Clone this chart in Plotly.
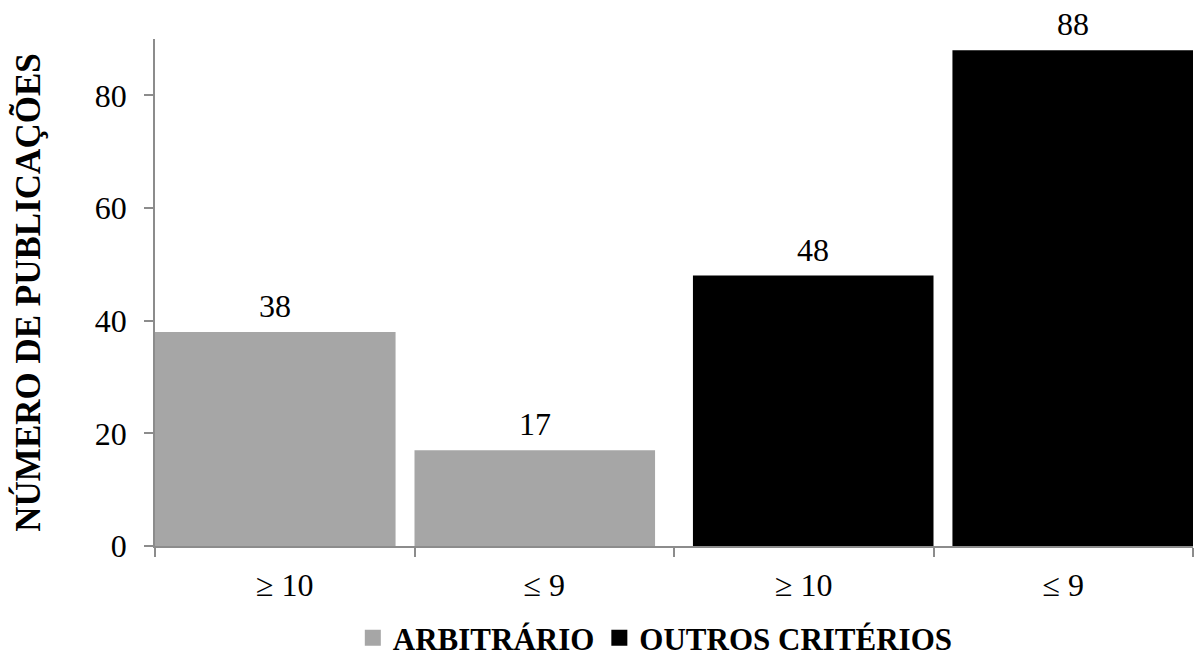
import plotly.graph_objects as go

categories = ["≥ 10", "≤ 9", "≥ 10", "≤ 9"]
series_names = ["ARBITRÁRIO", "OUTROS CRITÉRIOS"]
arbitrario = [38, 17, None, None]
outros = [None, None, 48, 88]
y_ticks = [0, 20, 40, 60, 80]

GRAY = "#a6a6a6"
BLACK = "#000000"
AXIS = "#8c8c8c"
FONT = "Times New Roman, Liberation Serif, serif"

x = list(range(len(categories)))
bw = 0.927

fig = go.Figure()
fig.add_trace(go.Bar(x=x, y=arbitrario, marker=dict(color=GRAY, line=dict(width=0)),
                     width=bw, offset=-0.5, showlegend=False))
fig.add_trace(go.Bar(x=x, y=outros, marker=dict(color=BLACK, line=dict(width=0)),
                     width=bw, offset=0.5 - bw, showlegend=False))

# legend proxies
for name, col in zip(series_names, [GRAY, BLACK]):
    fig.add_trace(go.Scatter(x=[None], y=[None], mode="markers", name=name,
                             marker=dict(symbol="square", size=17, color=col)))

# data labels
for vals, off in [(arbitrario, -0.5 + bw / 2), (outros, 0.5 - bw / 2)]:
    for xi, v in zip(x, vals):
        if v is None:
            continue
        fig.add_annotation(x=xi + off, y=v, text=str(v), showarrow=False,
                           yanchor="bottom", yshift=6,
                           font=dict(family=FONT, size=32, color="black"))

fig.update_layout(
    width=1195, height=662,
    margin=dict(l=155, r=2, t=39, b=116, autoexpand=False),
    plot_bgcolor="white", paper_bgcolor="white",
    barmode="overlay",
    font=dict(family=FONT, size=32, color="black"),
    legend=dict(orientation="h", x=0.482, xanchor="center",
                yref="container", y=0.036, yanchor="middle",
                bgcolor="rgba(0,0,0,0)",
                font=dict(family=FONT, size=31, color="black", weight="bold"),
                itemwidth=30, tracegroupgap=0),
    showlegend=True,
)
fig.update_xaxes(
    range=[-0.5, 3.5], tickmode="array", tickvals=x, ticktext=categories,
    ticks="", showline=True, linecolor=AXIS, linewidth=1.5, showgrid=False, zeroline=False,
    ticklabelstandoff=10,
    minor=dict(tickmode="array", tickvals=[-0.5, 0.5, 1.5, 2.5, 3.5], ticks="outside",
               ticklen=9, tickcolor=AXIS, tickwidth=1.5, showgrid=False),
)
fig.update_yaxes(
    range=[0, 90], tickmode="array", tickvals=y_ticks,
    ticks="outside", ticklen=9, tickcolor=AXIS, tickwidth=1.5,
    showline=True, linecolor=AXIS, linewidth=1.5, showgrid=False, zeroline=False,
    ticklabelstandoff=11,
    title=dict(text="NÚMERO DE PUBLICAÇÕES", standoff=44,
               font=dict(family=FONT, size=35, color="black", weight="bold")),
)

fig.write_html("out.html")
